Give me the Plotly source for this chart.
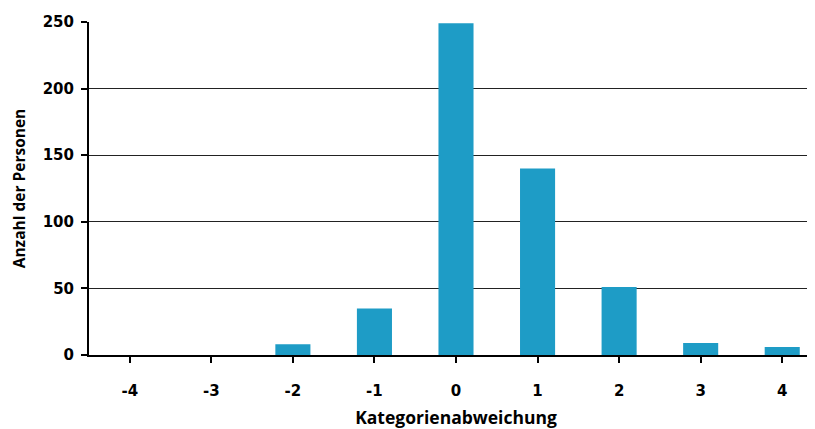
import plotly.graph_objects as go

categories = [-4, -3, -2, -1, 0, 1, 2, 3, 4]
tick_labels = ["-4", "-3", "-2", "-1", "0", "1", "2", "3", "4"]
counts = [0, 0, 8, 35, 249, 140, 51, 9, 6]
y_ticks = [0, 50, 100, 150, 200, 250]

tick_font = "DejaVu Sans"
title_font = "Open Sans"

fig = go.Figure(go.Bar(
    x=categories,
    y=counts,
    marker=dict(color="#1e9cc6", line=dict(width=0)),
    width=0.43,
))

# the page body has an 8px default margin, compensated here
fig.update_layout(
    width=815, height=429,
    margin=dict(l=81, r=0, t=14, b=82, pad=0),
    paper_bgcolor="white", plot_bgcolor="white",
    showlegend=False,
    font=dict(family=tick_font, color="black", size=14, weight="bold"),
)

fig.update_xaxes(
    automargin=False,
    tickmode="array", tickvals=categories, ticktext=tick_labels,
    range=[-4.5, 4.5],
    showline=True, linecolor="black", linewidth=2,
    ticks="outside", ticklen=6, tickwidth=2, tickcolor="black",
    tickson="boundaries",
    showgrid=False, zeroline=False,
    tickfont=dict(size=15, family=tick_font, weight="bold", color="black"),
    ticklabelstandoff=15,
    title=dict(text="Kategorienabweichung", standoff=13,
               font=dict(size=17.5, family=title_font, weight="bold", color="black")),
)

fig.update_yaxes(
    automargin=False,
    range=[0, 250], tickvals=y_ticks,
    showline=True, linecolor="black", linewidth=2,
    ticks="outside", ticklen=6, tickwidth=2, tickcolor="black",
    showgrid=True, gridcolor="#222222", gridwidth=1,
    zeroline=False,
    tickfont=dict(size=15, family=tick_font, weight="bold", color="black"),
    ticklabelstandoff=4,
    title=dict(text="Anzahl der Personen", standoff=14,
               font=dict(size=15.5, family=title_font, weight="bold", color="black")),
)

fig.write_html("out.html")
